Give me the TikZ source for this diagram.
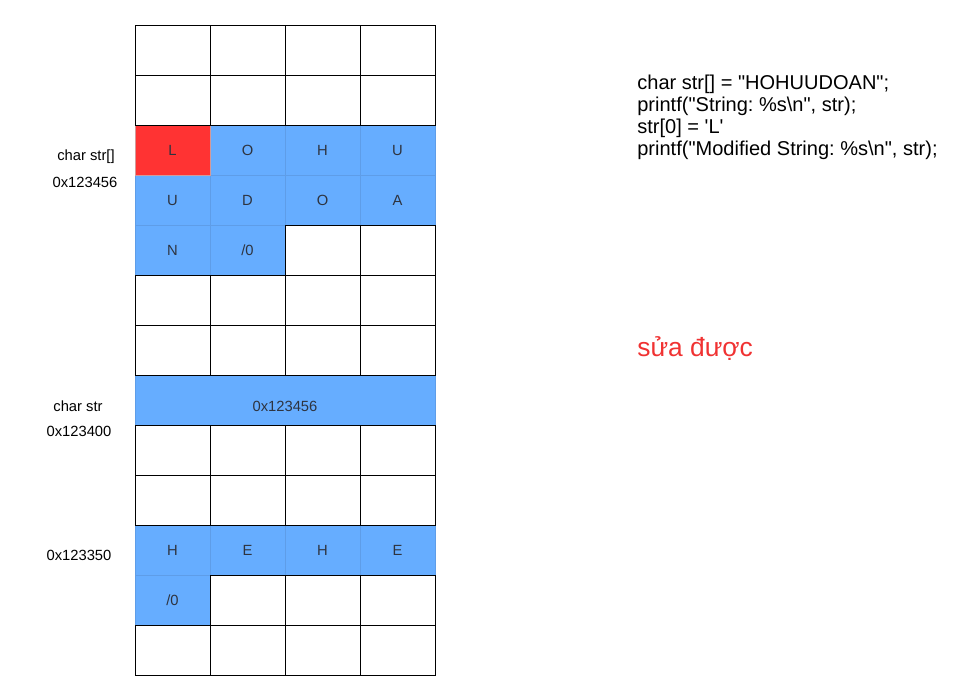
\documentclass[tikz,border=0pt]{standalone}
\usepackage{fontspec}
\setmainfont{Liberation Sans}
\newfontfamily\codefont{Liberation Sans}
\usetikzlibrary{positioning}
\definecolor{cellblue}{HTML}{66ADFF}
\definecolor{edgeblue}{HTML}{5E9DE8}
\definecolor{cellred}{HTML}{FF3333}
\definecolor{edgered}{HTML}{D39A9A}
\definecolor{celltext}{HTML}{2E3440}
\definecolor{notered}{HTML}{F03232}

\begin{document}
\frenchspacing
\begin{tikzpicture}[x=0.02cm,y=-0.02cm,
font=\fontsize{8.4}{10}\selectfont]

\tikzstyle{byte}=[rectangle, minimum width=1.5cm, minimum height=1cm, inner sep=0pt,
outer sep=0pt, fill=cellblue, draw=edgeblue, line width=0.4pt, text=celltext]
\tikzstyle{changed}=[byte, fill=cellred, draw=edgered]
\tikzstyle{free}=[rectangle, minimum width=1.5cm, minimum height=1cm, inner sep=0pt,
outer sep=0pt, draw=black, line width=0.55pt]
\tikzstyle{label}=[inner sep=0pt, text=black]

\useasboundingbox (0,0) rectangle (964,680);

%char str[] array
\node[byte] (s0) at (172.5,150) {};
\node[byte] (s1) at (247.5,150) {O};
\node[byte] (s2) at (322.5,150) {H};
\node[byte] (s3) at (397.5,150) {U};
\node[byte] (s4) at (172.5,200) {U};
\node[byte] (s5) at (247.5,200) {D};
\node[byte] (s6) at (322.5,200) {O};
\node[byte] (s7) at (397.5,200) {A};
\node[byte] (s8) at (172.5,250) {N};
\node[byte] (s9) at (247.5,250) {/0};
\node[changed] (s0new) at (172.5,150) {L};

%pointer char str
\node[byte, minimum width=6cm] (ptr) at (285,400) {};
\node[label, text=celltext] (ptrval) at (285,406) {0x123456};

%literal HEHE
\node[byte] (h0) at (172.5,550) {H};
\node[byte] (h1) at (247.5,550) {E};
\node[byte] (h2) at (322.5,550) {H};
\node[byte] (h3) at (397.5,550) {E};
\node[byte] (h4) at (172.5,600) {/0};

%empty memory
\foreach \r in {0,1,5,6,8,9,12}
  \foreach \c in {0,...,3}
    \node[free] (m-\r-\c) at (172.5+75*\c,50+50*\r) {};
\foreach \r/\c in {4/2,4/3,11/1,11/2,11/3}
  \node[free] (m-\r-\c) at (172.5+75*\c,50+50*\r) {};

%addresses
\node[label] (arrname) at (86,157) {char str[]};
\node[label] (arraddr) at (85,182) {0x123456};
\node[label] (ptrname) at (78,406) {char str};
\node[label] (ptraddr) at (79,431) {0x123400};
\node[label] (litaddr) at (79,555) {0x123350};

%code
\node[label, anchor=north west, align=left,
font=\codefont\fontsize{11.4}{12.5}\selectfont] (code) at (637,75)
{char str[] = "HOHUUDOAN";\\
printf("String: \%s\textbackslash n", str);\\
str[0] = 'L'\\
printf("Modified String: \%s\textbackslash n", str);};

\node[label, anchor=west, text=notered,
font=\fontsize{15}{18}\selectfont] (note) at (637,349) {sửa được};

\end{tikzpicture}
\end{document}
